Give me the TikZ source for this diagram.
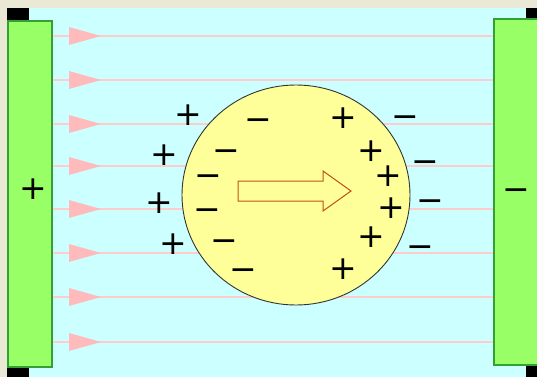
\documentclass[tikz,border=0pt]{standalone}
\usepackage{fontspec}
\newfontfamily\signfont{DejaVu Sans}

\definecolor{paper}{HTML}{E9E9D6}
\definecolor{field}{HTML}{CCFFFF}
\definecolor{plategreen}{HTML}{99FF66}
\definecolor{plateedge}{HTML}{33A033}
\definecolor{linepink}{HTML}{FFCCCC}
\definecolor{tippink}{HTML}{FFBBBB}
\definecolor{ball}{HTML}{FFFF99}
\definecolor{arrowedge}{HTML}{C0501A}

\tikzset{
  charge/.style={font=\signfont\fontsize{33}{33}\selectfont, inner sep=0pt},
  poscharge/.style={charge},
  negcharge/.style={charge, yshift=-7pt},
  plate/.style={fill=plategreen, draw=plateedge, line width=2pt},
  fieldline/.style={draw=linepink, line width=1.3pt},
}

\begin{document}
\begin{tikzpicture}[x=1pt, y=-1pt]
    \useasboundingbox (0,0) rectangle (537,377);

    % Background
    \fill[paper] (0,0) rectangle (537,377);
    \fill[field] (7,8) rectangle (537,377);

    % Field lines with arrow heads
    \foreach \y in {36,80,124,166,209,253,297,342} {
        \draw[fieldline] (53,\y) -- (493,\y);
        \fill[tippink] (69,\y-9) -- (101,\y) -- (69,\y+9) -- cycle;
    }

    % Corner marks
    \fill[black] (7,8) rectangle (29,20);
    \fill[black] (7,368) rectangle (29,377);
    \fill[black] (526,8) rectangle (537,18);
    \fill[black] (526,366) rectangle (537,377);

    % Plates
    \draw[plate] (8,21) rectangle (52,367);
    \draw[plate] (494,19) rectangle (540,365);
    \node[poscharge] (platepos) at (33,189) {+};
    \node[negcharge] (plateneg) at (516,188) {−};

    % Conductor
    \draw[fill=ball, draw=black!80, line width=0.9pt] (296,195) ellipse (114 and 110);

    % Drift arrow
    \draw[fill=ball, draw=arrowedge, line width=1pt]
        (238,181) -- (323,181) -- (323,171) -- (351,191)
        -- (323,211) -- (323,201) -- (238,201) -- cycle;

    % Charges
    \foreach \x/\y [count=\i] in {188/115, 164/155, 159/203, 173/244,
                                  343/118, 371/151, 388/176, 391/208, 371/237, 343/269}
        \node[poscharge] (pos\i) at (\x,\y) {+};
    \foreach \x/\y [count=\i] in {258/118, 226/149, 208/174, 207/208, 224/239, 243/268,
                                  405/115, 425/160, 430/199, 420/245}
        \node[negcharge] (neg\i) at (\x,\y) {−};
\end{tikzpicture}
\end{document}
